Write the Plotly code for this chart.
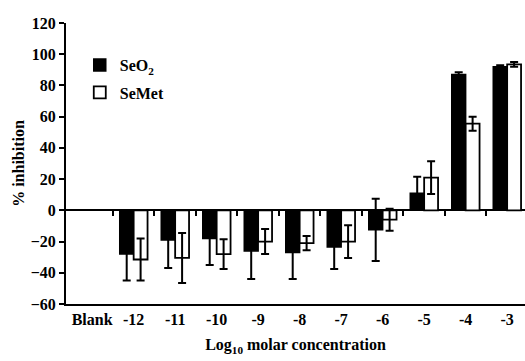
import plotly.graph_objects as go

categories = ["Blank", "-12", "-11", "-10", "-9", "-8", "-7", "-6", "-5", "-4", "-3"]
seo2 = [None, -28, -19, -18, -26, -27, -23.5, -12.5, 11, 87, 92]
seo2_err = [None, 17, 18, 17, 18, 17, 14, 20, 10.5, 1.5, 1]
semet = [None, -31.5, -30.5, -28, -20, -21, -20, -6, 21, 55.5, 93.5]
semet_err = [None, 13.5, 16, 9.5, 8, 4.5, 10.5, 7, 10.5, 4.5, 1.5]
y_ticks = [-60, -40, -20, 0, 20, 40, 60, 80, 100, 120]

FONT = dict(family="Liberation Serif", size=16, color="black", weight="bold")

fig = go.Figure()
fig.add_trace(go.Bar(
    x=categories, y=seo2, name="SeO<sub>2</sub>",
    marker=dict(color="black", line=dict(color="black", width=1.5)),
    error_y=dict(type="data", array=seo2_err, color="black", thickness=2, width=4),
    legend="legend",
))
fig.add_trace(go.Bar(
    x=categories, y=semet, name="SeMet",
    marker=dict(color="white", line=dict(color="black", width=1.8)),
    error_y=dict(type="data", array=semet_err, color="black", thickness=2, width=4),
    legend="legend2",
))
# boundary tick marks on the zero line
bounds = [i + 0.5 for i in range(len(categories) - 1)]
fig.add_trace(go.Scatter(
    x=bounds, y=[0] * len(bounds), xaxis="x2", mode="markers",
    marker=dict(opacity=0), showlegend=False, hoverinfo="skip",
))

xr = [-0.63, 10.43]
fig.update_layout(
    width=525, height=361,
    margin=dict(l=66, r=0, t=23, b=57),
    paper_bgcolor="white", plot_bgcolor="white",
    barmode="group", bargap=0.33, bargroupgap=0,
    font=FONT,
    xaxis=dict(
        type="category", range=xr, showline=True, linecolor="black", linewidth=2,
        ticks="", showgrid=False, tickfont=FONT,
        title=dict(text="Log<sub>10</sub> molar concentration", font=FONT, standoff=12),
    ),
    xaxis2=dict(
        overlaying="x", anchor="free", position=60 / 180, range=xr,
        tickvals=bounds, showticklabels=False, ticks="outside", ticklen=5,
        tickwidth=2, tickcolor="black", showline=False, showgrid=False, zeroline=False,
    ),
    yaxis=dict(
        range=[-60, 120], tickvals=y_ticks, showline=True, linecolor="black", linewidth=2,
        ticks="outside", ticklen=5, tickwidth=2, tickcolor="black", showgrid=False,
        zeroline=True, zerolinecolor="black", zerolinewidth=2, tickfont=FONT,
        title=dict(text="% inhibition", font=FONT, standoff=2),
    ),
    legend=dict(x=0.03, y=0.8505, xanchor="left", yanchor="middle",
                bgcolor="rgba(0,0,0,0)", font=FONT),
    legend2=dict(x=0.03, y=0.7527, xanchor="left", yanchor="middle",
                 bgcolor="rgba(0,0,0,0)", font=FONT),
)
fig.write_html("out.html", config={"displayModeBar": False},
               post_script="document.body.style.margin='0';document.body.style.padding='0';")
